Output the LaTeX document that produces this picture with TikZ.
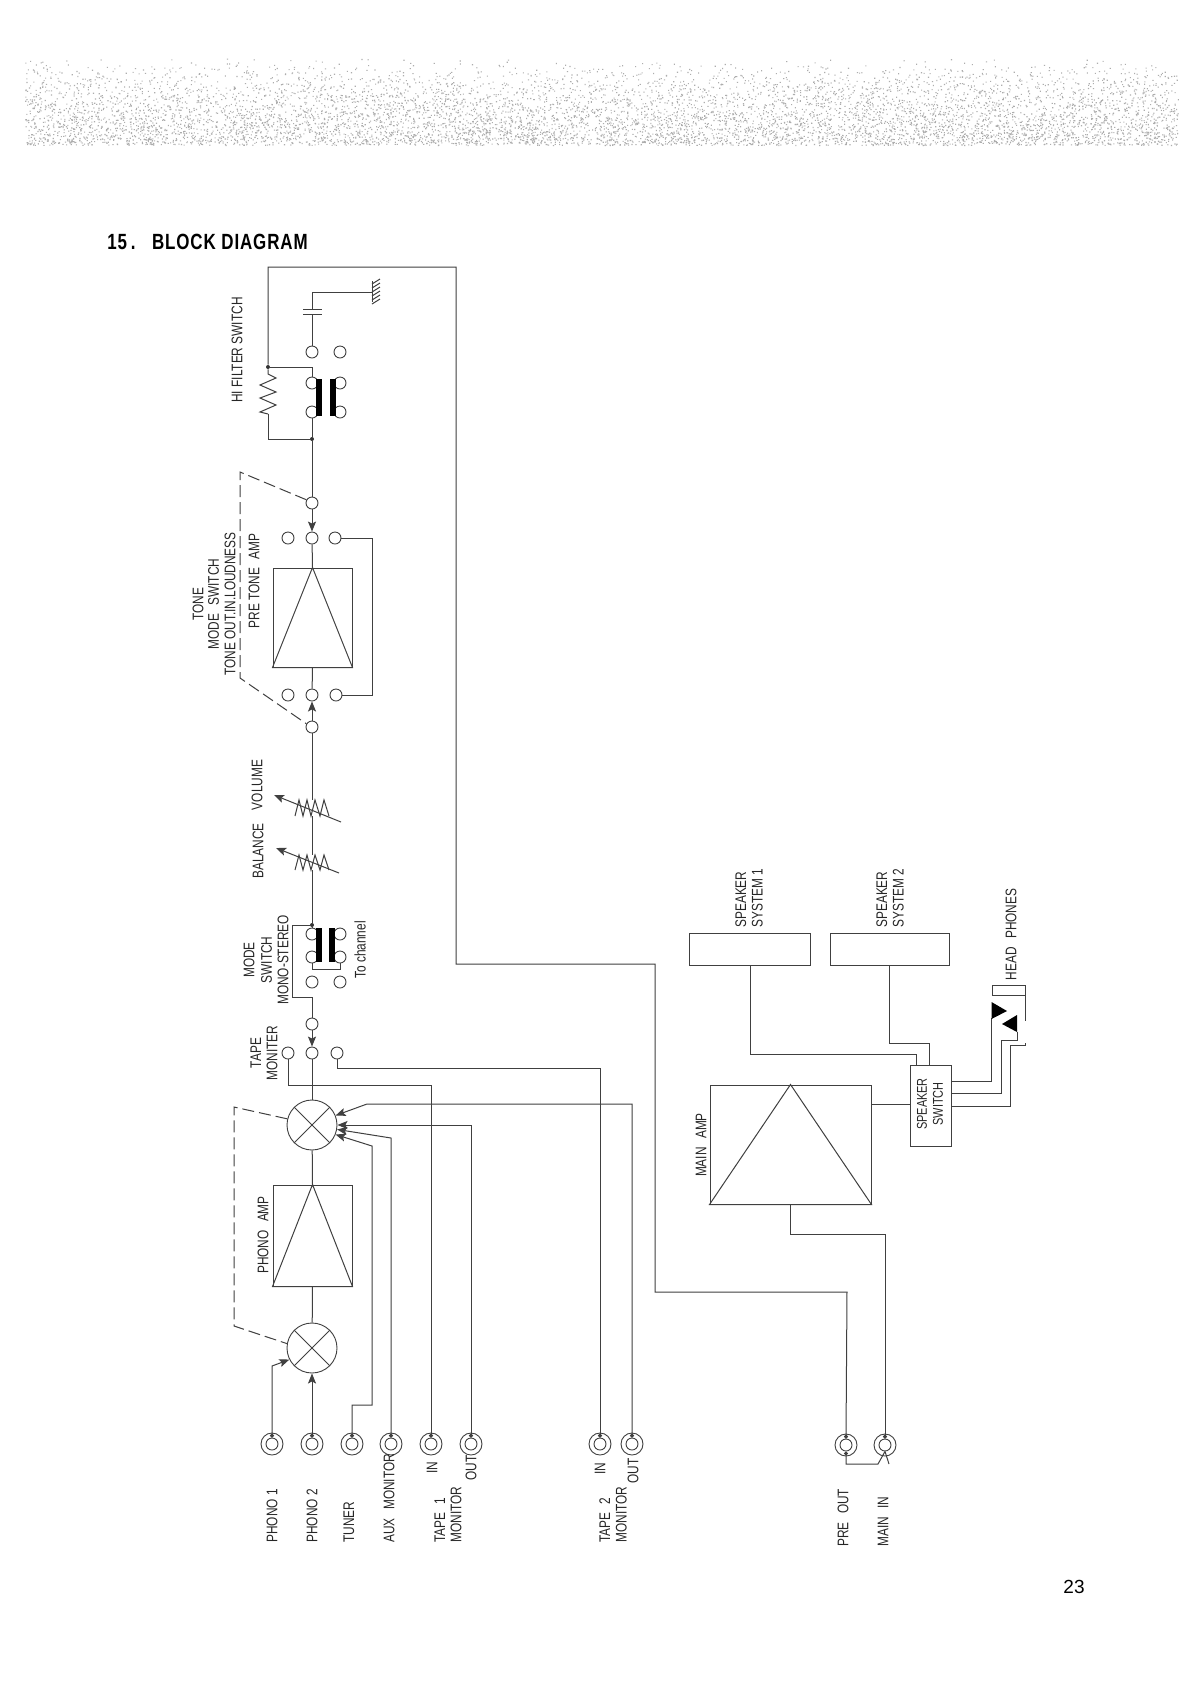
\documentclass[tikz,border=0pt]{standalone}
\usepackage{fontspec}
\setmainfont[FakeStretch=0.77]{Liberation Sans}
\newfontfamily\pagefont{Liberation Sans}
\usepackage{tikz}
\usetikzlibrary{positioning, calc, shapes, arrows.meta}

\begin{document}
\begin{tikzpicture}[
    x=0.5pt, y=-0.5pt,
    >={Stealth[length=5pt, width=4pt, inset=1pt]},
    wire/.style={draw=black!75, line width=0.5pt},
    arrow/.style={wire, ->},
    feed/.style={wire, {Circle[length=2pt]}-},
    inlet/.style={wire, {Circle[length=2pt]}->},
    ganged/.style={wire, dash pattern=on 6pt off 2.5pt},
    term/.style={circle, draw=black!75, fill=white, line width=0.45pt, minimum size=6pt, inner sep=0pt},
    ring/.style={term, minimum size=11pt},
    selector/.style={term, minimum size=25pt},
    junction/.style={circle, fill=black!80, minimum size=2pt, inner sep=0pt},
    bar/.style={fill=black, minimum width=2.6pt, inner sep=0pt},
    box/.style={rectangle, draw=black!75, line width=0.5pt, inner sep=0pt},
    caption/.style={rotate=90, font=\fontsize{7.7}{8.2}\selectfont, text=black!85, align=center, inner sep=0pt},
    capleft/.style={caption, align=left, anchor=west}
]
    \useasboundingbox (0,0) rectangle (1191,1683);
    \fill[white] (0,0) rectangle (1191,1683);

    % stippled band
    \pgfmathsetseed{15}
    \foreach \j in {1,...,8} {
        \fill[black!32] \foreach \i in {1,...,1000} {({25+1153*rnd},{57+88*sqrt(rnd)}) rectangle ++(1.1,1.1)};
    }

    \node[anchor=west, font=\bfseries\fontsize{11}{12}\selectfont, inner sep=0pt] (title) at (107,242) {\addfontfeatures{LetterSpace=4}15\,.\hspace{8.3pt}BLOCK DIAGRAM};
    \node[font=\pagefont\fontsize{9.5}{11}\selectfont, inner sep=0pt] (pagenum) at (1074,1587) {23};

    % hi filter switch
    \node[term] (hiLa) at (312,352) {};
    \node[term] (hiRa) at ($(hiLa)+(28,0)$) {};
    \node[term] (hiLb) at (312,383) {};
    \node[term] (hiRb) at ($(hiLb)+(28,0)$) {};
    \node[term] (hiLc) at (312,412) {};
    \node[term] (hiRc) at ($(hiLc)+(28,0)$) {};
    \node[bar, minimum height=18.5pt] (hiBarL) at (319,397.5) {};
    \node[bar, minimum height=18.5pt] (hiBarR) at (333,397.5) {};
    \node[junction] (hiTop) at (268,367) {};
    \node[junction] (hiBot) at (312,439) {};
    \coordinate (hiResB) at (268,414);
    \coordinate (hiElbow) at (268,439);
    \coordinate (hiDrop) at (312,367);
    \coordinate (capA) at (312,314);
    \coordinate (capB) at (312,309);
    \coordinate (capL) at (303,314);
    \coordinate (capR) at (322,314);
    \coordinate (capLb) at (303,309);
    \coordinate (capRb) at (322,309);
    \coordinate (gndFeed) at (312,292);
    \coordinate (gnd) at (372,292);
    \coordinate (gndA) at (372,281);
    \coordinate (gndB) at (372,302);
    \draw[wire] (hiLa) -- (capA);
    \draw[wire] (capL) -- (capR);
    \draw[wire] (capLb) -- (capRb);
    \draw[wire] (capB) -- (gndFeed) -- (gnd);
    \draw[wire] (gndA) -- (gndB);
    \foreach \gy in {284,288,292,296,300,304} {\draw[wire] (372,\gy) -- ++(8,-5);}
    \draw[wire] (hiTop) -- (hiDrop) -- (hiLb);
    \draw[wire] (hiTop) -- ++(0,7) -- ++(8,4) -- ++(-16,7) -- ++(16,7) -- ++(-16,6) -- ++(16,7) -- ++(-16,7) -- (hiResB);
    \draw[wire] (hiResB) -- (hiElbow) -- (hiBot);
    \draw[wire] (hiLc) -- (hiBot);
    \node[caption] (hiCap) at (237,350) {HI FILTER SWITCH};

    % tone switch and pre tone amp
    \node[term] (toneIn) at (312,503) {};
    \node[term] (toneUL) at (288,538) {};
    \node[term] (toneUM) at (312,538) {};
    \node[term] (toneUR) at (335,538) {};
    \node[term] (toneLL) at (288,695) {};
    \node[term] (toneLM) at (312,695) {};
    \node[term] (toneLR) at (336,695) {};
    \node[term] (toneOut) at (312,727) {};
    \node[box, minimum width=39.5pt, minimum height=49.5pt] (preTone) at (312.5,617.5) {};
    \coordinate (toneLoop) at (372,538);
    \coordinate (toneDashA) at (240,472);
    \coordinate (toneDashB) at (240,678);
    \draw[wire] (preTone.north) -- (preTone.south west) -- (preTone.south east) -- cycle;
    \draw[wire] (hiBot) -- (toneIn);
    \draw[arrow] (toneIn) -- (toneUM);
    \draw[wire] (toneUM) -- (preTone.north);
    \draw[wire] (preTone.south) -- (toneLM);
    \draw[arrow] (toneOut) -- (toneLM);
    \draw[wire] (toneUR) -- (toneLoop) |- (toneLR);
    \draw[ganged] (toneIn.150) -- (toneDashA) -- (toneDashB) -- (toneOut.150);
    \node[caption] (toneCap) at (214,604) {TONE\\[-0.4pt]MODE\,\, SWITCH\\TONE OUT.IN.LOUDNESS};
    \node[caption] (preToneCap) at (254,581) {PRE TONE\,\, AMP};

    % volume and balance
    \coordinate (volA) at (295,816);
    \coordinate (volT) at (312,800);
    \coordinate (volD) at (312,816);
    \coordinate (volTail) at (341,822);
    \coordinate (volTip) at (274,795);
    \coordinate (balA) at (295,870);
    \coordinate (balT) at (312,855);
    \coordinate (balD) at (312,870);
    \coordinate (balTail) at (339,873);
    \coordinate (balTip) at (276,848);
    \draw[wire] (volA) -- ++(4,-16) -- ++(4,16) -- ++(4,-16) -- ++(4,16) -- ++(4,-16) -- ++(5,16) -- ++(4,-16) -- ++(5,16);
    \draw[wire] (balA) -- ++(4,-15) -- ++(4,15) -- ++(4,-15) -- ++(4,15) -- ++(4,-15) -- ++(5,15) -- ++(4,-15) -- ++(5,15);
    \draw[arrow] (volTail) -- (volTip);
    \draw[arrow] (balTail) -- (balTip);
    \draw[wire] (toneOut) -- (volT);
    \draw[wire] (volD) -- (balT);
    \node[caption] (volCap) at (257,785) {VOLUME};
    \node[caption] (balCap) at (258,851) {BALANCE};

    % mode switch
    \node[junction] (modeTop) at (312,925) {};
    \node[term] (modeLa) at (312,934) {};
    \node[term] (modeRa) at ($(modeLa)+(28,0)$) {};
    \node[term] (modeLb) at (312,957) {};
    \node[term] (modeRb) at ($(modeLb)+(28,0)$) {};
    \node[term] (modeLc) at (312,982) {};
    \node[term] (modeRc) at ($(modeLc)+(28,0)$) {};
    \node[bar, minimum height=17pt] (modeBarL) at (319,945) {};
    \node[bar, minimum height=17pt] (modeBarR) at (332,945) {};
    \coordinate (modeA) at (292,925);
    \coordinate (modeB) at (292,997);
    \coordinate (modeC) at (312,997);
    \coordinate (modeLinkL) at (312,969);
    \coordinate (modeLinkR) at (340,969);
    \draw[wire] (balD) -- (modeTop);
    \draw[wire] (modeTop) -- (modeLa);
    \draw[wire] (modeTop) -- (modeA) -- (modeB) -- (modeC);
    \draw[wire] (modeLb) -- (modeLinkL) -- (modeLinkR) -- (modeRb);
    \node[caption] (modeCap) at (266,960) {MODE\\[0.6pt]SWITCH\\MONO-STEREO};
    \node[caption] (chanCap) at (360,950) {To channel};

    % tape monitor switch
    \node[term] (tapeIn) at (312,1024) {};
    \node[term] (tapeL) at (288,1053) {};
    \node[term] (tapeM) at (312,1053) {};
    \node[term] (tapeR) at (337,1053) {};
    \draw[wire] (modeC) -- (tapeIn);
    \draw[arrow] (tapeIn) -- (tapeM);
    \node[caption] (tapeCap) at (264,1053) {TAPE\\MONITER};

    % selectors and phono amp
    \node[selector] (selMain) at (312,1125) {};
    \node[selector] (selPhono) at (312,1348) {};
    \node[box, minimum width=39.5pt, minimum height=50.5pt] (phonoAmp) at (312.5,1235.5) {};
    \draw[wire] (selMain.45) -- (selMain.225);
    \draw[wire] (selMain.135) -- (selMain.315);
    \draw[wire] (selPhono.45) -- (selPhono.225);
    \draw[wire] (selPhono.135) -- (selPhono.315);
    \draw[wire] (phonoAmp.north) -- (phonoAmp.south west) -- (phonoAmp.south east) -- cycle;
    \draw[wire] (tapeM) -- (selMain);
    \draw[wire] (selMain) -- (phonoAmp.north);
    \draw[wire] (phonoAmp.south) -- (selPhono);
    \coordinate (selDashA) at (234,1107);
    \coordinate (selDashB) at (234,1326);
    \draw[ganged] (selMain.166) -- (selDashA) -- (selDashB) -- (selPhono.170);
    \node[caption] (phonoCap) at (263,1235) {PHONO\,\, AMP};

    % input jacks
    \node[ring] (phonoAring) at (272,1444) {};
    \node[term] (phonoA) at (phonoAring) {};
    \node[ring] (phonoBring) at (312,1444) {};
    \node[term] (phonoB) at (phonoBring) {};
    \node[ring] (tunerRing) at (352,1444) {};
    \node[term] (tuner) at (tunerRing) {};
    \node[ring] (auxRing) at (391,1444) {};
    \node[term] (aux) at (auxRing) {};
    \node[ring] (tapeOneInRing) at (431,1444) {};
    \node[term] (tapeOneIn) at (tapeOneInRing) {};
    \node[ring] (tapeOneOutRing) at (471,1444) {};
    \node[term] (tapeOneOut) at (tapeOneOutRing) {};
    \node[ring] (tapeTwoInRing) at (600,1444) {};
    \node[term] (tapeTwoIn) at (tapeTwoInRing) {};
    \node[ring] (tapeTwoOutRing) at (632,1444) {};
    \node[term] (tapeTwoOut) at (tapeTwoOutRing) {};
    \node[ring] (preOutRing) at (846,1445) {};
    \node[term] (preOut) at (preOutRing) {};
    \node[ring] (mainInRing) at (885,1445) {};
    \node[term] (mainIn) at (mainInRing) {};

    \coordinate (phonoElbow) at (272,1366);
    \coordinate (tunerA) at (352,1405);
    \coordinate (tunerB) at (372,1405);
    \coordinate (tunerC) at (372,1146);
    \coordinate (auxA) at (391,1138);
    \coordinate (tapeOneA) at (471,1125);
    \coordinate (tapeTwoA) at (632,1104);
    \coordinate (tapeTwoB) at (367,1104);
    \coordinate (monL) at (288,1085);
    \coordinate (monLb) at (431,1085);
    \coordinate (monR) at (337,1068);
    \coordinate (monRb) at (600,1068);
    \draw[inlet] (phonoA.north) -- (phonoElbow) -- (selPhono.207);
    \draw[inlet] (phonoB.north) -- (selPhono.south);
    \draw[inlet] (tuner.north) -- (tunerA) -- (tunerB) -- (tunerC) -- (selMain.-22);
    \draw[inlet] (aux.north) -- (auxA) -- (selMain.-10);
    \draw[inlet] (tapeOneOut.north) -- (tapeOneA) -- (selMain.0);
    \draw[inlet] (tapeTwoOut.north) -- (tapeTwoA) -- (tapeTwoB) -- (selMain.22);
    \draw[wire] (tapeL) -- (monL) -- (monLb);
    \draw[feed] (tapeOneIn.north) -- (monLb);
    \draw[wire] (tapeR) -- (monR) -- (monRb);
    \draw[feed] (tapeTwoIn.north) -- (monRb);

    \node[capleft] (phonoAcap) at (272,1543) {PHONO 1};
    \node[capleft] (phonoBcap) at (312,1543) {PHONO 2};
    \node[capleft] (tunerCap) at (349,1543) {TUNER};
    \node[capleft] (auxCap) at (389,1543) {AUX\,\, MONITOR};
    \node[capleft] (tapeOneCap) at (448,1543) {TAPE\,\, 1\\MONITOR};
    \node[capleft] (tapeTwoCap) at (613,1543) {TAPE\,\, 2\\MONITOR};
    \node[caption] (oneInCap) at (432,1468) {IN};
    \node[caption] (oneOutCap) at (471,1468) {OUT};
    \node[caption] (twoInCap) at (600,1469) {IN};
    \node[caption] (twoOutCap) at (633,1471) {OUT};
    \node[capleft] (preOutCap) at (843,1547) {PRE\,\, OUT};
    \node[capleft] (mainInCap) at (883,1547) {MAIN\,\, IN};

    % pre out to main in link
    \coordinate (linkA) at (846,1464);
    \coordinate (linkB) at (878,1464);
    \coordinate (linkC) at (889,1464);
    \draw[feed] (preOut.south) -- (linkA) -- (linkB) -- (mainIn.south) -- (linkC);

    % main amp
    \node[box, minimum width=80.5pt, minimum height=59.5pt] (mainAmp) at (790.5,1144.5) {};
    \coordinate (mainA) at (790.5,1234);
    \coordinate (mainB) at (885,1234);
    \draw[wire] (mainAmp.north) -- (mainAmp.south west) -- (mainAmp.south east) -- cycle;
    \draw[wire] (mainAmp.south) -- (mainA) -- (mainB);
    \draw[feed] (mainIn.north) -- (mainB);
    \node[caption] (mainCap) at (701,1145) {MAIN\,\, AMP};

    % long return line
    \coordinate (retA) at (847,1292);
    \coordinate (retB) at (655,1292);
    \coordinate (retC) at (655,964);
    \coordinate (retD) at (456,964);
    \coordinate (retE) at (456,267);
    \coordinate (retF) at (268,267);
    \draw[feed] (preOut.north) -- (retA) -- (retB) -- (retC) -- (retD) -- (retE) -- (retF) -- (hiTop);

    % speakers
    \node[box, minimum width=60.5pt, minimum height=16pt] (spkOne) at (749.5,949) {};
    \node[box, minimum width=59.5pt, minimum height=16pt] (spkTwo) at (889.5,949) {};
    \node[box, minimum width=20.5pt, minimum height=40.5pt] (spkSwitch) at (930.5,1105.5) {};
    \coordinate (spkOneA) at (750,1054);
    \coordinate (spkOneB) at (916,1054);
    \coordinate (spkOneC) at (916,1065);
    \coordinate (spkTwoA) at (889,1043);
    \coordinate (spkTwoB) at (929,1043);
    \coordinate (spkTwoC) at (929,1065);
    \coordinate (ampTap) at (871,1104);
    \coordinate (swTap) at (910,1104);
    \draw[wire] (spkOne.south -| spkOneA) -- (spkOneA) -- (spkOneB) -- (spkOneC);
    \draw[wire] (spkTwo.south -| spkTwoA) -- (spkTwoA) -- (spkTwoB) -- (spkTwoC);
    \draw[wire] (ampTap) -- (swTap);
    \node[capleft] (spkOneCap) at (749,928) {SPEAKER\\SYSTEM 1};
    \node[capleft] (spkTwoCap) at (890,928) {SPEAKER\\SYSTEM 2};
    \node[caption, font=\fontsize{7.1}{8}\selectfont] (swCap) at (930,1104) {SPEAKER\\SWITCH};

    % head phones
    \coordinate (hpSwA) at (951,1081);
    \coordinate (hpA) at (991,1081);
    \coordinate (hpAb) at (991,1018);
    \coordinate (hpSwB) at (951,1093);
    \coordinate (hpB) at (1001,1093);
    \coordinate (hpBb) at (1001,1040);
    \coordinate (hpBc) at (1017,1040);
    \coordinate (hpBd) at (1017,1032);
    \coordinate (hpSwC) at (951,1106);
    \coordinate (hpC) at (1010,1106);
    \coordinate (hpCb) at (1010,1045);
    \coordinate (hpCc) at (1025,1045);
    \coordinate (hpCd) at (1025,1043);
    \draw[wire] (hpSwA) -- (hpA) -- (hpAb);
    \draw[wire] (hpSwB) -- (hpB) -- (hpBb) -- (hpBc) -- (hpBd);
    \draw[wire] (hpSwC) -- (hpC) -- (hpCb) -- (hpCc) -- (hpCd);
    \coordinate (hpTipA) at (1007,1011);
    \coordinate (hpBaseA) at (991.5,1002);
    \coordinate (hpBaseB) at (991.5,1019);
    \coordinate (hpTipB) at (1002,1024);
    \coordinate (hpBaseC) at (1017,1015);
    \coordinate (hpBaseD) at (1017,1032);
    \fill (hpBaseA) -- (hpTipA) -- (hpBaseB) -- cycle;
    \fill (hpBaseC) -- (hpTipB) -- (hpBaseD) -- cycle;
    \coordinate (hpCupA) at (992,995);
    \coordinate (hpCupB) at (992,985);
    \coordinate (hpCupC) at (1025,985);
    \coordinate (hpCupD) at (1025,1021);
    \coordinate (hpCupE) at (1025,995);
    \draw[wire] (hpCupE) -- (hpCupA) -- (hpCupB) -- (hpCupC) -- (hpCupD);
    \node[caption] (hpCap) at (1011,934.5) {HEAD\,\, PHONES};
\end{tikzpicture}
\end{document}
